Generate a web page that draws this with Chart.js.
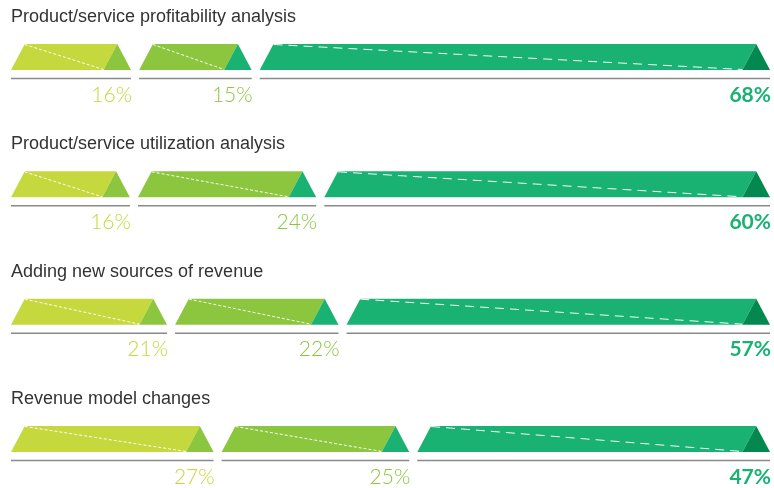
<!DOCTYPE html>
<html>
<head>
<meta charset="utf-8">
<script src="https://cdn.jsdelivr.net/npm/chart.js@4"></script>
<style>
  body { margin: 0; background: #fff; }
  #wrap { width: 774px; height: 488px; position: relative; }
</style>
</head>
<body>
<div id="wrap"><canvas id="myChart"></canvas></div>
<script>
const categories = ['Product/service profitability analysis', 'Product/service utilization analysis',
                    'Adding new sources of revenue', 'Revenue model changes'];
const firstValues = [16, 16, 21, 27];
const secondValues = [15, 24, 22, 25];
const thirdValues = [68, 60, 57, 47];

const fills = ['#c5d93e', '#8cc63f', '#1ab273', '#03894f'];
const labelColors = ['#c5d93e', '#8cc63f', '#1ab273'];
const GAP = 1.06; // gap between segments, in x units

// every row is spread over the full width, like the original
const series = [firstValues, secondValues, thirdValues];
const ranges = [[], [], []];
for (let i = 0; i < categories.length; i++) {
    const sum = firstValues[i] + secondValues[i] + thirdValues[i];
    const avail = 100 - 2 * GAP;
    let start = 0;
    for (let s = 0; s < 3; s++) {
        const w = series[s][i] / sum * avail;
        ranges[s].push([start, start + w]);
        start += w + GAP;
    }
}

const prisms = {
    id: 'prisms',
    afterDatasetsDraw(chart) {
        const ctx = chart.ctx;
        ctx.save();
        chart.data.datasets.forEach((ds, d) => {
            const meta = chart.getDatasetMeta(d);
            meta.data.forEach((bar, i) => {
                const p = bar.getProps(['x', 'y', 'base', 'height'], true);
                const left = Math.min(p.x, p.base), right = Math.max(p.x, p.base);
                const top = p.y - p.height / 2, bottom = p.y + p.height / 2;
                const slant = p.height * 0.53;

                ctx.fillStyle = fills[d];
                ctx.beginPath();
                ctx.moveTo(left, bottom);
                ctx.lineTo(left + slant, top);
                ctx.lineTo(right - slant, top);
                ctx.lineTo(right - 2 * slant, bottom);
                ctx.closePath();
                ctx.fill();

                ctx.fillStyle = fills[d + 1];
                ctx.beginPath();
                ctx.moveTo(right - 2 * slant, bottom);
                ctx.lineTo(right - slant, top);
                ctx.lineTo(right, bottom);
                ctx.closePath();
                ctx.fill();

                ctx.strokeStyle = 'rgba(255,255,255,0.95)';
                ctx.lineWidth = 1;
                ctx.setLineDash(d == 2 ? [9, 6] : [3, 2]);
                ctx.beginPath();
                ctx.moveTo(left + slant, top + 0.5);
                ctx.lineTo(right - 2 * slant, bottom - 0.5);
                ctx.stroke();
                ctx.setLineDash([]);

                ctx.strokeStyle = '#8a8a8a';
                ctx.lineWidth = 1.5;
                ctx.beginPath();
                ctx.moveTo(left, bottom + 8.5);
                ctx.lineTo(right, bottom + 8.5);
                ctx.stroke();

                ctx.fillStyle = labelColors[d];
                ctx.textAlign = 'right';
                ctx.textBaseline = 'alphabetic';
                ctx.font = d == 2 ? 'bold 21px Lato' : '300 21px Lato';
                ctx.fillText(series[d][i] + '%', right + 1, p.y + 44.5);

                if (d == 0) {
                    ctx.fillStyle = '#333333';
                    ctx.textAlign = 'left';
                    ctx.font = '18px "Liberation Sans"';
                    ctx.fillText(categories[i], chart.chartArea.left, p.y - 35);
                }
            });
        });
        ctx.restore();
    }
};

const myChart = document.getElementById('myChart').getContext('2d');
const PrismChart = new Chart(myChart, {
    type: 'bar',
    data: {
        labels: categories,
        datasets: ranges.map((r, s) => ({
            label: 'Segment ' + (s + 1),
            data: r,
            backgroundColor: 'rgba(0,0,0,0)',
            grouped: false,
            barThickness: 26,
            clip: false
        }))
    },
    options: {
        indexAxis: 'y',
        responsive: true,
        maintainAspectRatio: false,
        animation: false,
        layout: { padding: { left: 11, right: 4, top: 57, bottom: 49 } },
        scales: {
            x: { display: false, min: 0, max: 100 },
            y: { display: false, offset: false }
        },
        plugins: {
            legend: { display: false },
            tooltip: { enabled: false }
        }
    },
    plugins: [prisms]
});
</script>
</body>
</html>
